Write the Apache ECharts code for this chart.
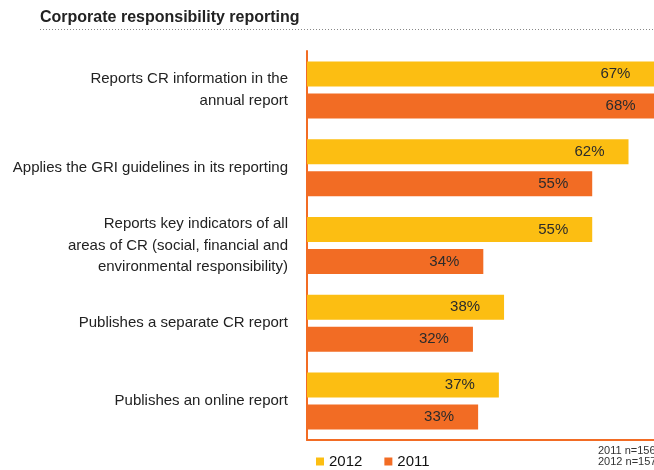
<!DOCTYPE html>
<html>
<head>
<meta charset="utf-8">
<script src="https://cdn.jsdelivr.net/npm/echarts@6/dist/echarts.min.js"></script>
<style>
html,body{margin:0;padding:0;background:#fff;overflow:hidden;width:654px;height:470px;}
#chart{width:670px;height:470px;}
</style>
</head>
<body>
<div id="chart"></div>
<script>
var categories = [
  'Reports CR information in the\nannual report',
  'Applies the GRI guidelines in its reporting',
  'Reports key indicators of all\nareas of CR (social, financial and\nenvironmental responsibility)',
  'Publishes a separate CR report',
  'Publishes an online report'
];
var values2012 = [67, 62, 55, 38, 37];
var values2011 = [68, 55, 34, 32, 33];
var seriesNames = ['2012', '2011'];
var notes = ['2011 n=156', '2012 n=157'];
var titleText = 'Corporate responsibility reporting';

var FONT = '"Liberation Sans", Arial, Helvetica, sans-serif';
var YELLOW = '#FCBE12';
var ORANGE = '#F26C24';

var chart = echarts.init(document.getElementById('chart'), null, {renderer: 'canvas'});
var labelCfg = {
  show: true,
  position: 'insideRight',
  distance: 24,
  formatter: '{c}%',
  fontSize: 15,
  color: '#2b2b2b',
  fontFamily: FONT
};
chart.setOption({
  animation: false,
  textStyle: {fontFamily: FONT},
  title: {
    text: titleText,
    left: 35,
    top: 5,
    textStyle: {fontSize: 16, fontWeight: 'bold', color: '#222', fontFamily: FONT}
  },
  legend: {
    data: seriesNames,
    left: 311,
    top: 449,
    icon: 'rect',
    itemWidth: 8,
    itemHeight: 8,
    itemGap: 22,
    textStyle: {fontSize: 15, color: '#111', fontFamily: FONT}
  },
  grid: {left: 307, right: 0, top: 51, bottom: 30, containLabel: false},
  xAxis: {
    type: 'value',
    min: 0,
    max: 70,
    axisLine: {show: true, lineStyle: {color: ORANGE, width: 2}},
    axisTick: {show: false},
    axisLabel: {show: false},
    splitLine: {show: false}
  },
  yAxis: {
    type: 'category',
    data: categories,
    inverse: true,
    axisLine: {show: true, lineStyle: {color: ORANGE, width: 2}},
    axisTick: {show: false},
    axisLabel: {
      margin: 19,
      fontSize: 15,
      lineHeight: 21.5,
      padding: [3, 0, 0, 0],
      color: '#222',
      align: 'right',
      fontFamily: FONT
    }
  },
  series: [
    {name: seriesNames[0], type: 'bar', data: values2012, barWidth: 25, barGap: '28%',
     itemStyle: {color: YELLOW}, label: labelCfg},
    {name: seriesNames[1], type: 'bar', data: values2011, barWidth: 25, barGap: '28%',
     itemStyle: {color: ORANGE}, label: labelCfg}
  ],
  graphic: [
    {type: 'line', shape: {x1: 40, y1: 29.5, x2: 670, y2: 29.5},
     style: {stroke: '#888', lineWidth: 1, lineDash: [1, 2]}},
    {type: 'text', left: 598, top: 445,
     style: {text: notes[0], fontSize: 11, fill: '#333', fontFamily: FONT}},
    {type: 'text', left: 598, top: 456,
     style: {text: notes[1], fontSize: 11, fill: '#333', fontFamily: FONT}}
  ]
});
</script>
</body>
</html>
